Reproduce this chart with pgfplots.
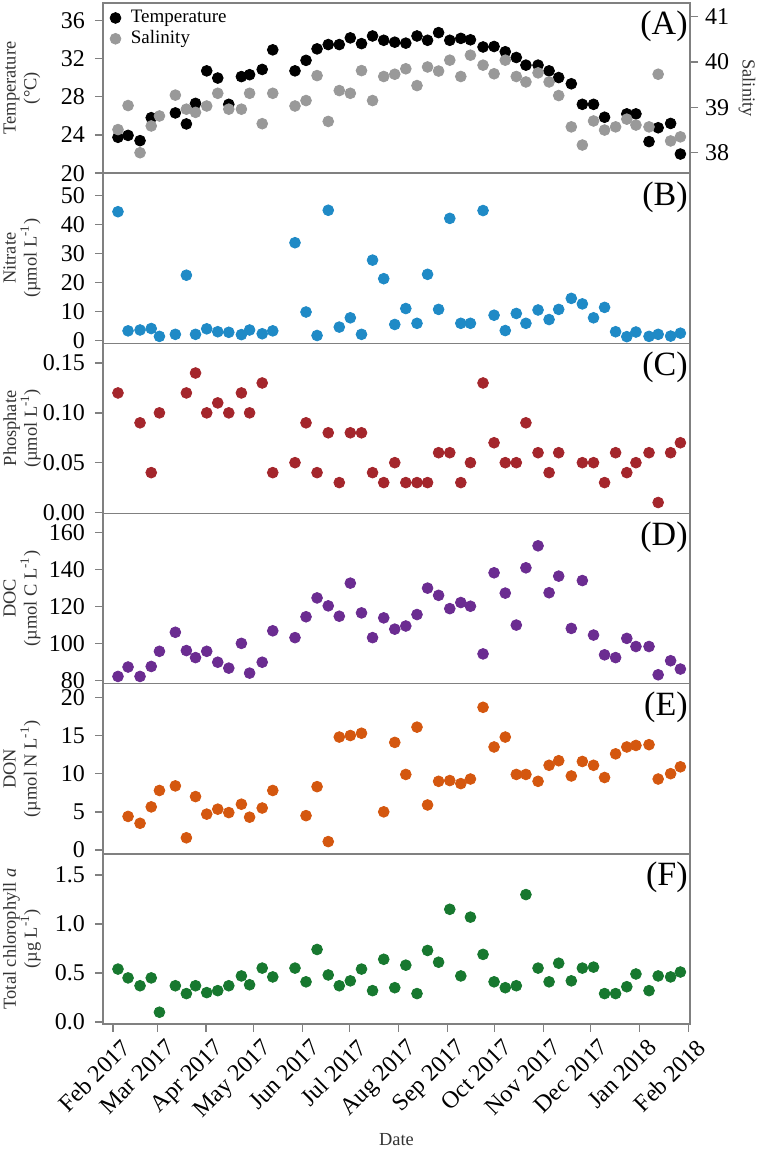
\documentclass[border=0pt]{standalone}
\usepackage{fontspec}
\setmainfont{Liberation Serif}
\usepackage{pgfplots}
\usepackage{pgfplotstable}
\pgfplotsset{compat=1.18}

\definecolor{tempc}{HTML}{000000}
\definecolor{salc}{HTML}{999999}
\definecolor{nitc}{HTML}{1F8AC6}
\definecolor{phoc}{HTML}{A4262C}
\definecolor{docc}{HTML}{6B2C91}
\definecolor{donc}{HTML}{D4570F}
\definecolor{chlc}{HTML}{17782F}

% day = days since 1 Feb 2017
\pgfplotstableread{
d     T     S     N     P     DOC    DON   Chl
3.1   23.75 38.51 44.4  0.12  82.1   nan   0.54
9.5   23.95 39.04 3.3   nan   87.2   4.4   0.45
17.1  23.4  38.00 3.6   0.09  82.1   3.5   0.37
24.2  25.8  38.59 4.1   0.04  87.5   5.65  0.45
29.4  nan   38.81 1.4   0.10  95.7   7.8   0.10
39.5  26.3  39.27 2.1   nan   106.0  8.4   0.37
46.5  25.15 38.96 22.5  0.12  96.1   1.6   0.29
52.3  27.3  38.89 2.1   0.14  92.3   7.0   0.37
59.4  30.7  39.03 4.0   0.10  95.7   4.7   0.30
66.4  29.95 39.31 3.0   0.11  89.8   5.35  0.32
73.4  27.2  38.96 2.8   0.10  86.6   4.9   0.37
81.4  30.1  38.96 2.0   0.12  100.0  6.0   0.47
86.6  30.3  39.31 3.6   0.10  83.9   4.3   0.38
94.6  30.85 38.64 2.3   0.13  89.8   5.5   0.55
101.3 32.9  39.31 3.3   0.04  106.8  7.8   0.46
115.4 30.7  39.03 33.7  0.05  103.1  nan   0.55
122.4 31.8  39.15 9.8   0.09  114.4  4.5   0.41
129.4 33.0  39.70 1.7   0.04  124.6  8.3   0.74
136.5 33.45 38.69 44.9  0.08  120.3  1.1   0.48
143.5 33.45 39.37 4.6   0.03  114.7  14.8  0.37
150.5 34.15 39.31 7.8   0.08  132.6  15.0  0.42
157.6 33.55 39.81 2.1   0.08  116.5  15.3  0.54
164.6 34.35 39.15 27.7  0.04  103.1  nan   0.32
171.7 33.9  39.68 21.3  0.03  113.8  5.0   0.64
178.7 33.7  39.73 5.5   0.05  107.7  14.1  0.35
185.7 33.6  39.85 11.0  0.03  109.4  9.9   0.58
192.8 34.35 39.48 5.9   0.03  115.6  16.1  0.29
199.5 33.9  39.89 22.8  0.03  129.9  5.9   0.73
206.5 34.7  39.80 10.7  0.06  126.0  9.0   0.61
213.6 33.9  40.04 42.1  0.06  118.8  9.1   1.15
220.6 34.1  39.68 5.9   0.03  122.1  8.7   0.47
226.7 33.95 40.15 5.9   0.05  120.1  9.3   1.07
234.7 33.2  39.93 44.8  0.13  94.3   18.7  0.69
241.7 33.25 39.74 8.7   0.07  138.2  13.5  0.41
248.8 32.7  40.04 3.4   0.05  127.2  14.8  0.35
255.8 32.1  39.68 9.3   0.05  109.9  9.9   0.37
261.9 31.3  39.56 5.9   0.09  140.9  9.9   1.30
269.6 31.3  39.76 10.5  0.06  152.8  9.0   0.55
276.6 30.7  39.56 7.2   0.04  127.4  11.1  0.41
282.7 30.0  39.26 10.7  0.06  136.4  11.7  0.60
290.7 29.35 38.57 14.5  nan   108.1  9.7   0.42
297.7 27.2  38.17 12.6  0.05  134.0  11.6  0.55
304.8 27.2  38.70 7.8   0.05  104.5  11.1  0.56
311.8 25.85 38.50 11.4  0.03  93.8   9.5   0.29
318.8 nan   38.57 3.0   0.06  92.3   12.6  0.29
325.9 26.2  38.74 1.3   0.04  102.7  13.5  0.36
331.7 26.2  38.61 2.9   0.05  98.3   13.7  0.49
340.0 23.3  38.57 1.4   0.06  98.3   13.8  0.32
345.8 24.75 39.73 2.1   0.01  83.0   9.3   0.47
353.7 25.2  38.26 1.5   0.06  90.6   10.0  0.46
359.9 22.0  38.35 2.5   0.07  86.1   10.9  0.51
}\chem

\tikzset{
  tag/.style={anchor=north east, inner sep=0pt, xshift=-1pt, yshift=-4pt,
    font=\fontsize{17}{19}\selectfont},
}
\pgfplotsset{
  panel/.style={
    scale only axis, width=293.5pt, height=85.08pt,
    xmin=-6.4, xmax=366,
    axis line style={black!50, line width=0.7pt},
    every tick/.style={black!50, line width=0.7pt},
    major tick length=4pt, tick align=outside,
    ytick pos=left, xtick=\empty,
    ticklabel style={font=\fontsize{12}{14}\selectfont},
    yticklabel style={xshift=-1.5pt},
    /pgf/number format/assume math mode=true,
    every axis y label/.style={at={(axis description cs:-0.138,0.5)}, rotate=90,
      anchor=center, align=center, text=black!80,
      font=\fontsize{9.2}{10.4}\selectfont},
  },
  dots/.style={only marks, mark=*, mark size=2.7pt, color=#1},
}

\begin{document}
\begin{tikzpicture}
\useasboundingbox (0,0) rectangle (378.5pt,-577.5pt);

% (A) temperature
\begin{axis}[panel, at={(51.5pt,-86.58pt)},
  ymin=20, ymax=37.8, ytick={20,24,28,32,36},
  ylabel={Temperature\\(°C)},
  legend style={at={(axis description cs:0.008,0.995)}, anchor=north west,
    draw=none, fill=none, font=\fontsize{9.5}{10.5}\selectfont,
    row sep=-1.5pt, inner sep=1pt},
  legend cell align=left]
\addplot[dots=tempc] table[x=d, y=T] {\chem};
\addlegendentry{\hspace{3pt}Temperature}
\addlegendimage{dots=salc}
\addlegendentry{\hspace{3pt}Salinity}
\node[tag] at (rel axis cs:1,1) {(A)};
\end{axis}

% (A) salinity, right axis
\begin{axis}[panel, at={(51.5pt,-86.58pt)},
  axis x line=none, axis y line*=right, ytick pos=right,
  yticklabel style={xshift=1.5pt},
  ymin=37.55, ymax=41.3, ytick={38,39,40,41},
  ylabel={Salinity},
  every axis y label/.style={at={(axis description cs:1.097,0.5)}, rotate=-90,
    anchor=center, text=black!80, font=\fontsize{9.2}{10.4}\selectfont}]
\addplot[dots=salc] table[x=d, y=S] {\chem};
\end{axis}

% (B) nitrate
\begin{axis}[panel, at={(51.5pt,-171.66pt)},
  ymin=-1, ymax=57.7, ytick={0,10,...,50},
  ylabel={Nitrate\\(µmol L\textsuperscript{-1})}]
\addplot[dots=nitc] table[x=d, y=N] {\chem};
\node[tag] at (rel axis cs:1,1) {(B)};
\end{axis}

% (C) phosphate
\begin{axis}[panel, at={(51.5pt,-256.74pt)},
  ymin=-0.001, ymax=0.1698, ytick={0,0.05,0.1,0.15},
  yticklabel style={/pgf/number format/.cd, fixed, fixed zerofill, precision=2},
  ylabel={Phosphate\\(µmol L\textsuperscript{-1})}]
\addplot[dots=phoc] table[x=d, y=P] {\chem};
\node[tag] at (rel axis cs:1,1) {(C)};
\end{axis}

% (D) DOC
\begin{axis}[panel, at={(51.5pt,-341.82pt)},
  ymin=78.2, ymax=170.3, ytick={80,100,...,160},
  ylabel={DOC\\(µmol C L\textsuperscript{-1})}]
\addplot[dots=docc] table[x=d, y=DOC] {\chem};
\node[tag] at (rel axis cs:1,1) {(D)};
\end{axis}

% (E) DON
\begin{axis}[panel, at={(51.5pt,-426.9pt)},
  ymin=-0.5, ymax=21.8, ytick={0,5,...,20},
  ylabel={DON\\(µmol N L\textsuperscript{-1})}]
\addplot[dots=donc] table[x=d, y=DON] {\chem};
\node[tag] at (rel axis cs:1,1) {(E)};
\end{axis}

% (F) chlorophyll
\begin{axis}[panel, at={(51.5pt,-511.98pt)},
  ymin=-0.02, ymax=1.716, ytick={0,0.5,1,1.5},
  yticklabel style={/pgf/number format/.cd, fixed, fixed zerofill, precision=1},
  xtick pos=bottom,
  xtick={0,28,59,89,120,150,181,212,242,273,303,334,365},
  xticklabels={Feb 2017,Mar 2017,Apr 2017,May 2017,Jun 2017,Jul 2017,Aug 2017,
    Sep 2017,Oct 2017,Nov 2017,Dec 2017,Jan 2018,Feb 2018},
  xticklabel style={rotate=45, anchor=north east, xshift=4pt, yshift=-1pt},
  xlabel={Date},
  every axis x label/.style={at={(axis description cs:0.5,-0.682)}, anchor=center,
    text=black!80, font=\fontsize{9.2}{10.4}\selectfont},
  ylabel={Total chlorophyll \textit{a}\\(µg L\textsuperscript{-1})}]
\addplot[dots=chlc] table[x=d, y=Chl] {\chem};
\node[tag] at (rel axis cs:1,1) {(F)};
\end{axis}
\end{tikzpicture}
\end{document}
